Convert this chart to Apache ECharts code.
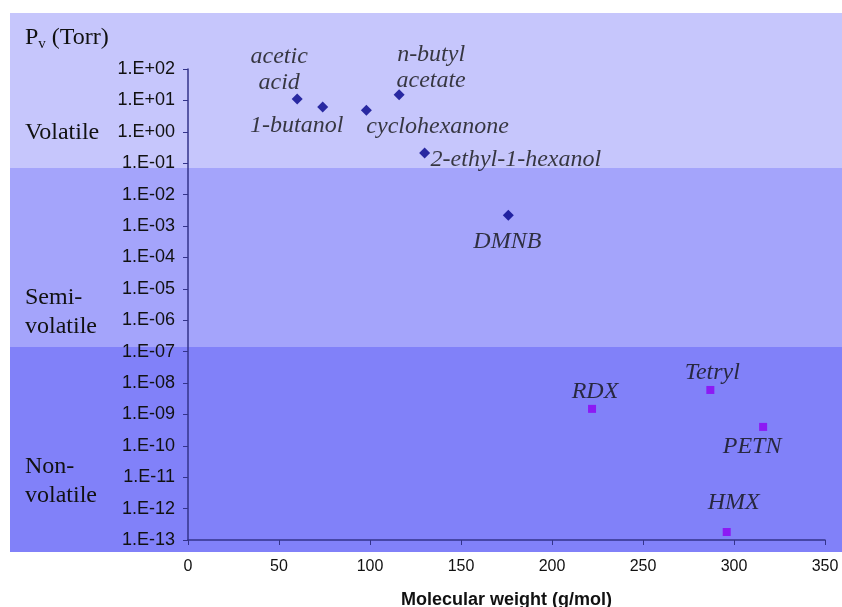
<!DOCTYPE html>
<html>
<head>
<meta charset="utf-8">
<script src="https://cdn.jsdelivr.net/npm/echarts@6/dist/echarts.min.js"></script>
<style>
html,body{margin:0;padding:0;background:#fff;overflow:hidden;}
#c{width:842px;height:607px;}
</style>
</head>
<body>
<div id="c"></div>
<script>
// ---- data ----
const solventNames = ['acetic\nacid', '1-butanol', 'cyclohexanone', 'n-butyl\nacetate', '2-ethyl-1-hexanol', 'DMNB'];
const solventMW    = [60, 74, 98, 116, 130, 176];
const solventPv    = [11, 6.2, 4.9, 15, 0.21, 2.2e-3];

const explosiveNames = ['RDX', 'Tetryl', 'PETN', 'HMX'];
const explosiveMW    = [222, 287, 316, 296];
const explosivePv    = [1.5e-9, 6e-9, 4e-10, 1.8e-13];

const bandNames = ['Volatile', 'Semi-\nvolatile', 'Non-\nvolatile'];
const bandBoundaries = [7e-2, 1.4e-7]; // Pv limits between classes
const yMin = 1e-13, yMax = 1e2;
const xMin = 0, xMax = 350, xStep = 50;

// ---- label placement (style) ----
const labelStyle = {
  'acetic\nacid':      {offset: [-18, -29], align: 'center'},
  '1-butanol':         {offset: [-26, 19], align: 'center'},
  'cyclohexanone':     {offset: [0, 17], align: 'left'},
  'n-butyl\nacetate':  {offset: [32, -27], align: 'center'},
  '2-ethyl-1-hexanol': {offset: [6, 7], align: 'left'},
  'DMNB':              {offset: [-1, 26], align: 'center'},
  'RDX':               {offset: [3, -17], align: 'center'},
  'Tetryl':            {offset: [2, -17], align: 'center'},
  'PETN':              {offset: [-11, 20], align: 'center'},
  'HMX':               {offset: [7, -29], align: 'center'}
};

function buildData(names, xs, ys) {
  return names.map((n, i) => {
    const s = labelStyle[n];
    return {
      name: n,
      value: [xs[i], ys[i]],
      label: {show: true, formatter: n, position: 'inside', offset: s.offset, align: s.align, verticalAlign: 'middle'}
    };
  });
}

const serif = '"Liberation Serif", "Times New Roman", serif';
const sans = '"Liberation Sans", Arial, sans-serif';

const labelCommon = {
  fontFamily: serif, fontStyle: 'italic', fontSize: 24, color: '#111', lineHeight: 26
};

function fmtExp(v) {
  const e = Math.round(Math.log10(v));
  const a = Math.abs(e);
  return '1.E' + (e >= 0 ? '+' : '-') + (a < 10 ? '0' + a : '' + a);
}

const chart = echarts.init(document.getElementById('c'), null, {renderer: 'canvas', width: 842, height: 607});
const axisColor = '#33338a';

chart.setOption({
  backgroundColor: '#ffffff',
  animation: false,
  grid: {left: 188, width: 637, top: 69, height: 471, containLabel: false, outerBoundsMode: 'none'},
  xAxis: {
    type: 'value', min: xMin, max: xMax, interval: xStep,
    axisLine: {show: true, onZero: false, lineStyle: {color: axisColor, width: 1.5}},
    axisTick: {show: true, length: 5, lineStyle: {color: axisColor}},
    splitLine: {show: false},
    axisLabel: {fontFamily: sans, fontSize: 16, color: '#111', margin: 19},
    name: 'Molecular weight (g/mol)', nameLocation: 'middle', nameGap: 51,
    nameTextStyle: {fontFamily: sans, fontSize: 18, fontWeight: 'bold', color: '#111'}
  },
  yAxis: {
    type: 'log', logBase: 10, min: yMin, max: yMax, interval: 1,
    axisLine: {show: true, onZero: false, lineStyle: {color: axisColor, width: 1.5}},
    axisTick: {show: true, length: 5, lineStyle: {color: axisColor}},
    splitLine: {show: false},
    axisLabel: {fontFamily: sans, fontSize: 18, color: '#111', margin: 13, formatter: fmtExp}
  },
  series: [
    {
      type: 'scatter', name: 'solvents', symbol: 'diamond', symbolSize: 11,
      itemStyle: {color: '#00008a'},
      label: labelCommon,
      data: buildData(solventNames, solventMW, solventPv), z: 5
    },
    {
      type: 'scatter', name: 'explosives', symbol: 'rect', symbolSize: 8,
      itemStyle: {color: '#8e00f2'},
      label: labelCommon,
      data: buildData(explosiveNames, explosiveMW, explosivePv), z: 5
    }
  ]
});

// ---- background bands from class boundaries ----
const frameTop = 13, frameBottom = 552, frameLeft = 10, frameRight = 842;
const b1 = chart.convertToPixel({yAxisIndex: 0}, bandBoundaries[0]);
const b2 = chart.convertToPixel({yAxisIndex: 0}, bandBoundaries[1]);
const bandColors = ['#c6c6fc', '#a4a4fb', '#8181f9'];
const bandEdges = [frameTop, b1, b2, frameBottom];

const graphics = [];
for (let i = 0; i < 3; i++) {
  graphics.push({
    type: 'rect', z: -100, silent: true,
    shape: {x: frameLeft, y: bandEdges[i], width: frameRight - frameLeft, height: bandEdges[i + 1] - bandEdges[i]},
    style: {fill: bandColors[i]}
  });
}
const bandLabelCenters = [133, 312, 481];
bandNames.forEach((n, i) => {
  graphics.push({
    type: 'text', z: 100, silent: true, x: 25, y: bandLabelCenters[i],
    style: {text: n, font: '24px ' + serif, fill: '#111', lineHeight: 29, verticalAlign: 'middle', align: 'left'}
  });
});
graphics.push({
  type: 'text', z: 100, silent: true, x: 25, y: 38,
  style: {
    text: '{a|P}{b|v}{a| (Torr)}', verticalAlign: 'middle', align: 'left',
    rich: {
      a: {fontFamily: serif, fontSize: 24, fill: '#111', lineHeight: 28},
      b: {fontFamily: serif, fontSize: 15, fill: '#111', lineHeight: 16, verticalAlign: 'bottom'}
    }
  }
});
chart.setOption({graphic: graphics});
</script>
</body>
</html>
